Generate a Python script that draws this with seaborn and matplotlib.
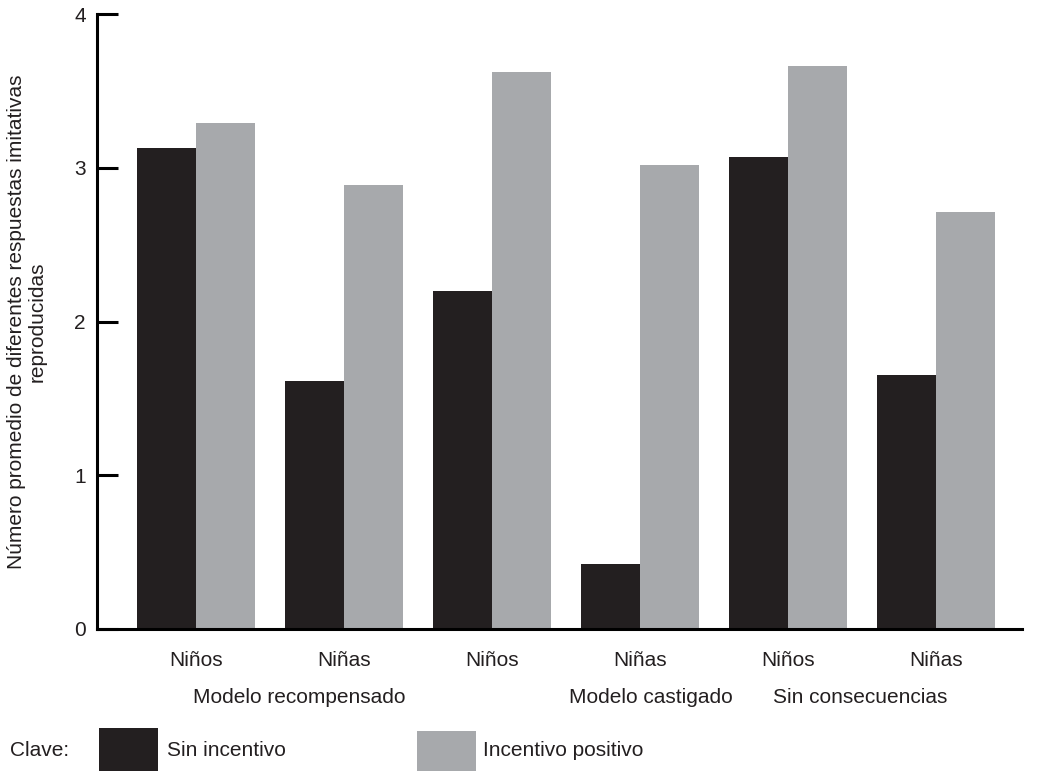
import pandas as pd
import seaborn as sns
import matplotlib.pyplot as plt
from matplotlib.patches import Rectangle

# data
grupos = ["Recompensado Niños", "Recompensado Niñas", "Castigado Niños",
          "Castigado Niñas", "Sin consecuencias Niños", "Sin consecuencias Niñas"]
etiquetas = ["Niños", "Niñas", "Niños", "Niñas", "Niños", "Niñas"]
sin_incentivo = [3.13, 1.61, 2.20, 0.42, 3.07, 1.65]
incentivo_positivo = [3.29, 2.89, 3.62, 3.02, 3.66, 2.71]
condiciones = ["Sin incentivo", "Incentivo positivo"]
modelos = ["Modelo recompensado", "Modelo castigado", "Sin consecuencias"]
modelo_x = [0.70, 3.07, 4.49]

df = pd.DataFrame({
    "grupo": grupos * 2,
    "condicion": [condiciones[0]] * 6 + [condiciones[1]] * 6,
    "valor": sin_incentivo + incentivo_positivo,
})

negro = "#231f20"
gris = "#a7a9ac"
colores = {condiciones[0]: negro, condiciones[1]: gris}

sns.set_style("ticks")
plt.rcParams["font.family"] = ["Liberation Sans", "DejaVu Sans"]
fs = 15

fig = plt.figure(figsize=(10.39, 7.71), dpi=100)
ax = fig.add_axes([97 / 1039, 1 - 629 / 771, (1022 - 97) / 1039, (629 - 14) / 771])

sns.barplot(data=df, x="grupo", y="valor", hue="condicion", order=grupos,
            hue_order=condiciones, palette=colores, width=0.8, saturation=1,
            linewidth=0, legend=False, ax=ax)

ax.set_xlim(-0.669, 5.58)
ax.set_ylim(0, 4)
ax.set_yticks([0, 1, 2, 3, 4])
ax.set_xticks(range(6))
ax.set_xticklabels(etiquetas, fontsize=fs, color="#231f20")
ax.tick_params(axis="x", bottom=False, length=0, pad=16)
ax.tick_params(axis="y", left=True, direction="in", length=15, width=2.2,
               pad=8, labelsize=fs, color="black", labelcolor="#231f20")
ax.set_xlabel("")
ax.set_ylabel("Número promedio de diferentes respuestas imitativas\nreproducidas",
              fontsize=fs, color="#231f20", labelpad=20, linespacing=1.1)

for s in ["top", "right"]:
    ax.spines[s].set_visible(False)
for s in ["left", "bottom"]:
    ax.spines[s].set_linewidth(2.2)
    ax.spines[s].set_color("black")

trans = ax.get_xaxis_transform()
for nombre, xm in zip(modelos, modelo_x):
    ax.text(xm, -0.112, nombre, transform=trans, ha="center", va="center",
            fontsize=fs, color="#231f20")

# key at the bottom
fig.text(10 / 1039, 1 - 750 / 771, "Clave:", fontsize=fs, va="center",
         color="#231f20")
fig.add_artist(Rectangle((99 / 1039, 0), 59 / 1039, 43 / 771,
                         transform=fig.transFigure, color=negro, lw=0))
fig.text(167 / 1039, 1 - 750 / 771, condiciones[0], fontsize=fs, va="center",
         color="#231f20")
fig.add_artist(Rectangle((417 / 1039, 0), 59 / 1039, 40 / 771,
                         transform=fig.transFigure, color=gris, lw=0))
fig.text(483 / 1039, 1 - 750 / 771, condiciones[1], fontsize=fs, va="center",
         color="#231f20")

fig.savefig("out.png", dpi=100)
